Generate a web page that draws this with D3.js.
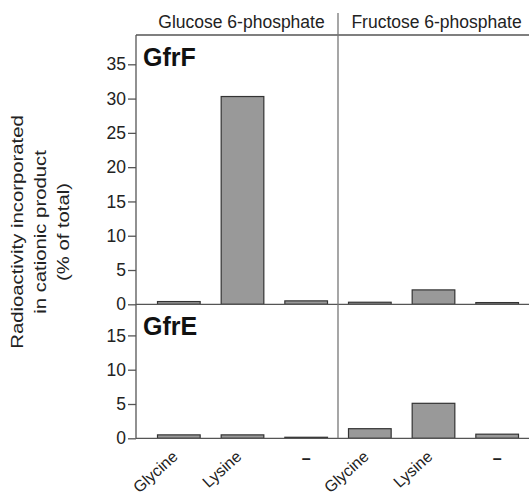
<!DOCTYPE html>
<html>
<head>
<meta charset="utf-8">
<script src="https://cdn.jsdelivr.net/npm/d3@7"></script>
<style>
  body { margin: 0; background: #fff; }
  text { font-family: "Liberation Sans", Arial, Helvetica, sans-serif; }
</style>
</head>
<body>
<svg></svg>
<script>
const width = 529;
const height = 496;

// data
const substrates = ["Glucose 6-phosphate", "Fructose 6-phosphate"];
const aminoAcids = ["Glycine", "Lysine", "–"];
const enzymes = ["GfrF", "GfrE"];
const gfrF = [[0.4, 30.3, 0.5], [0.3, 2.1, 0.25]];
const gfrE = [[0.5, 0.5, 0.15], [1.4, 5.1, 0.6]];
const gfrFTicks = [0, 5, 10, 15, 20, 25, 30, 35];
const gfrETicks = [0, 5, 10, 15];
const yTitle = ["Radioactivity incorporated", "in cationic product", "(% of total)"];

const axisX = 136;
const headerY = 35;
const lineColor = "#555";

const svg = d3.select("svg")
  .attr("width", width)
  .attr("height", height);

const panel = d3.scaleBand().domain(substrates).range([147, width]);
const bar = d3.scaleBand().domain(aminoAcids)
  .range([0, panel.bandwidth()])
  .paddingInner(0.33)
  .paddingOuter(0.165);

const yF = d3.scaleLinear().domain([0, 35]).range([304.3, 64.3]);
const yE = d3.scaleLinear().domain([0, 15]).range([438.3, 335.4]);

const rows = [
  { name: enzymes[0], values: gfrF, y: yF, ticks: gfrFTicks, labelY: 66 },
  { name: enzymes[1], values: gfrE, y: yE, ticks: gfrETicks, labelY: 335 }
];

// header line + substrate names
svg.append("line")
  .attr("x1", axisX).attr("x2", width)
  .attr("y1", headerY).attr("y2", headerY)
  .attr("stroke", lineColor).attr("stroke-width", 1.3);

svg.append("g")
  .selectAll("text")
  .data(substrates)
  .enter().append("text")
    .attr("x", (d, i) => panel(d) + panel.bandwidth() / 2 + (i ? 3 : -1))
    .attr("y", 28)
    .attr("text-anchor", "middle")
    .attr("font-size", 17.5)
    .attr("fill", "#222")
    .text(d => d);

rows.forEach(row => {
  const g = svg.append("g");

  // bars
  substrates.forEach((s, i) => {
    g.append("g")
      .selectAll("rect")
      .data(row.values[i])
      .enter().append("rect")
        .attr("x", (v, j) => panel(s) + bar(aminoAcids[j]))
        .attr("y", v => row.y(v))
        .attr("width", bar.bandwidth())
        .attr("height", v => row.y(0) - row.y(v))
        .attr("fill", "#999")
        .attr("stroke", "#333")
        .attr("stroke-width", 1.2);
  });

  // zero line across both panels
  g.append("line")
    .attr("x1", axisX).attr("x2", width)
    .attr("y1", row.y(0)).attr("y2", row.y(0))
    .attr("stroke", lineColor).attr("stroke-width", 1.3);

  const axis = g.append("g")
    .attr("transform", `translate(${axisX},0)`)
    .call(d3.axisLeft(row.y).tickValues(row.ticks).tickSize(8).tickSizeOuter(0).tickPadding(2));
  axis.select(".domain").remove();
  axis.selectAll(".tick line").attr("stroke", lineColor).attr("stroke-width", 1.3);
  axis.selectAll(".tick text")
    .attr("font-size", 17.5)
    .attr("font-family", "'Liberation Sans', Arial, sans-serif")
    .attr("fill", "#222");

  g.append("text")
    .attr("x", 143)
    .attr("y", row.labelY)
    .attr("font-size", 25)
    .attr("font-weight", "bold")
    .attr("fill", "#111")
    .text(row.name);
});

// y axis line and panel divider
svg.append("line")
  .attr("x1", axisX).attr("x2", axisX)
  .attr("y1", headerY).attr("y2", yE(0))
  .attr("stroke", lineColor).attr("stroke-width", 1.3);

svg.append("line")
  .attr("x1", panel(substrates[1])).attr("x2", panel(substrates[1]))
  .attr("y1", 13).attr("y2", yE(0))
  .attr("stroke", "#777").attr("stroke-width", 1.3);

// category labels
substrates.forEach(s => {
  aminoAcids.forEach(a => {
    const cx = panel(s) + bar(a) + bar.bandwidth() / 2;
    if (a === "–") {
      svg.append("text")
        .attr("x", cx)
        .attr("y", 464)
        .attr("text-anchor", "middle")
        .attr("font-size", 16)
        .attr("font-weight", "bold")
        .attr("fill", "#222")
        .text(a);
    } else {
      svg.append("text")
        .attr("transform", `translate(${cx},${458}) rotate(-42)`)
        .attr("text-anchor", "end")
        .attr("font-size", 16)
        .attr("fill", "#222")
        .text(a);
    }
  });
});

// y title
svg.append("text")
  .attr("transform", "translate(0,232) rotate(-90) scale(1.27,1)")
  .attr("text-anchor", "middle")
  .attr("font-size", 16)
  .attr("fill", "#222")
  .selectAll("tspan")
  .data(yTitle)
  .enter().append("tspan")
    .attr("x", 0)
    .attr("y", (d, i) => 23 + i * 23)
    .text(d => d);
</script>
</body>
</html>
